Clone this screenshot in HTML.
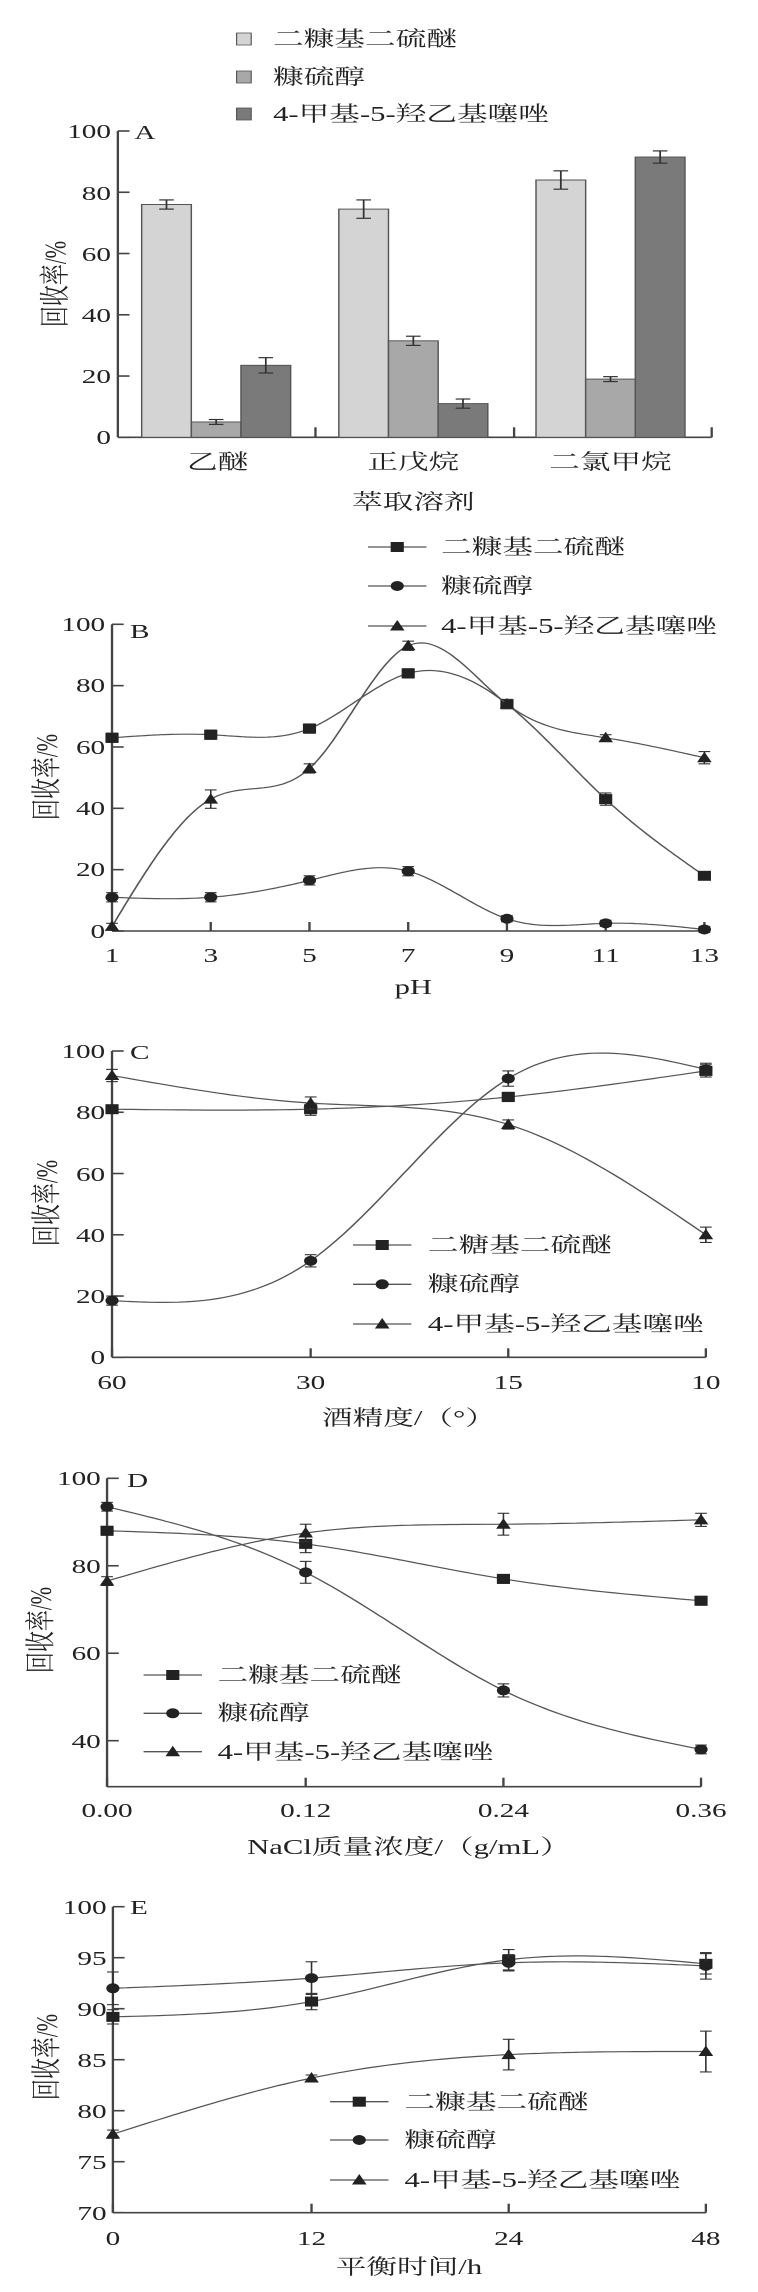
<!DOCTYPE html>
<html><head><meta charset="utf-8">
<style>
html,body{margin:0;padding:0;background:#fff;}
svg{display:block;}
text{font-family:"Liberation Serif","Noto Serif CJK SC","Noto Sans CJK SC",serif;fill:#222;}
.t{font-size:20px;}
.c{font-size:21px;}
</style></head>
<body>
<svg id="s" width="758" height="2292" viewBox="0 0 519 2292" preserveAspectRatio="none" xmlns="http://www.w3.org/2000/svg">
<g stroke="#444" stroke-width="1.6" fill="none" id="axes"></g>
<g id="plot"></g>

<!-- Panel A legend -->
<rect x="162" y="33" width="10" height="12" fill="#d4d4d4" stroke="#555" stroke-width="0.8"/>
<rect x="162" y="71" width="10" height="12" fill="#a8a8a8" stroke="#555" stroke-width="0.8"/>
<rect x="162" y="108" width="10" height="12" fill="#7a7a7a" stroke="#555" stroke-width="0.8"/>
<text class="c" x="187" y="46">二糠基二硫醚</text>
<text class="c" x="187" y="84">糠硫醇</text>
<text class="c" x="187" y="121">4-甲基-5-羟乙基噻唑</text>
<text class="t" x="92" y="139">A</text>
<text class="c" x="149" y="469" text-anchor="middle">乙醚</text>
<text class="c" x="283" y="469" text-anchor="middle">正戊烷</text>
<text class="c" x="418" y="469" text-anchor="middle">二氯甲烷</text>
<text class="c" x="283" y="509" text-anchor="middle">萃取溶剂</text>
<text class="c" transform="translate(45,284) rotate(-90)" text-anchor="middle">回收率/%</text>

<!-- Panel B -->
<text class="c" x="302" y="554">二糠基二硫醚</text>
<text class="c" x="302" y="593">糠硫醇</text>
<text class="c" x="302" y="633">4-甲基-5-羟乙基噻唑</text>
<text class="t" x="89" y="638">B</text>
<text class="c" x="283" y="994" text-anchor="middle">pH</text>
<text class="c" transform="translate(39,777) rotate(-90)" text-anchor="middle">回收率/%</text>

<!-- Panel C -->
<text class="c" x="293" y="1252">二糖基二硫醚</text>
<text class="c" x="293" y="1291">糠硫醇</text>
<text class="c" x="293" y="1331">4-甲基-5-羟乙基噻唑</text>
<text class="t" x="89" y="1059">C</text>
<text class="c" x="280" y="1425" text-anchor="middle">酒精度/（°）</text>
<text class="c" transform="translate(39,1203) rotate(-90)" text-anchor="middle">回收率/%</text>

<!-- Panel D -->
<text class="c" x="149" y="1682">二糠基二硫醚</text>
<text class="c" x="149" y="1720">糠硫醇</text>
<text class="c" x="149" y="1759">4-甲基-5-羟乙基噻唑</text>
<text class="t" x="87" y="1487">D</text>
<text class="c" x="280" y="1854" text-anchor="middle">NaCl质量浓度/（g/mL）</text>
<text class="c" transform="translate(35,1630) rotate(-90)" text-anchor="middle">回收率/%</text>

<!-- Panel E -->
<text class="c" x="277" y="2109">二糠基二硫醚</text>
<text class="c" x="277" y="2147">糠硫醇</text>
<text class="c" x="277" y="2187">4-甲基-5-羟乙基噻唑</text>
<text class="t" x="89" y="1914">E</text>
<text class="c" x="280" y="2274" text-anchor="middle">平衡时间/h</text>
<text class="c" transform="translate(39,2057) rotate(-90)" text-anchor="middle">回收率/%</text>

<!-- tick labels -->
<g class="t" text-anchor="end">
<text x="76" y="138">100</text><text x="76" y="200">80</text><text x="76" y="261">60</text><text x="76" y="322">40</text><text x="76" y="383">20</text><text x="76" y="444">0</text>
<text x="72" y="631">100</text><text x="72" y="692">80</text><text x="72" y="754">60</text><text x="72" y="815">40</text><text x="72" y="876">20</text><text x="72" y="938">0</text>
<text x="72" y="1058">100</text><text x="72" y="1119">80</text><text x="72" y="1181">60</text><text x="72" y="1242">40</text><text x="72" y="1303">20</text><text x="72" y="1364">0</text>
<text x="69" y="1485">100</text><text x="69" y="1573">80</text><text x="69" y="1660">60</text><text x="69" y="1748">40</text>
<text x="73" y="1914">100</text><text x="73" y="1965">95</text><text x="73" y="2016">90</text><text x="73" y="2067">85</text><text x="73" y="2118">80</text><text x="73" y="2169">75</text><text x="73" y="2220">70</text>
</g>
<g class="t" text-anchor="middle">
<text x="76.7" y="962">1</text><text x="144.3" y="962">3</text><text x="211.9" y="962">5</text><text x="279.5" y="962">7</text><text x="347.1" y="962">9</text><text x="414.7" y="962">11</text><text x="482.3" y="962">13</text>
<text x="76.7" y="1389">60</text><text x="212.7" y="1389">30</text><text x="348" y="1389">15</text><text x="483.3" y="1389">10</text>
<text x="73.3" y="1817">0.00</text><text x="209.3" y="1817">0.12</text><text x="344.7" y="1817">0.24</text><text x="480" y="1817">0.36</text>
<text x="77.3" y="2245">0</text><text x="213.3" y="2245">12</text><text x="348.3" y="2245">24</text><text x="483.3" y="2245">48</text>
</g>
</svg>
<script>
(function(){
var NS="http://www.w3.org/2000/svg";
var ax=document.getElementById('axes'), pl=document.getElementById('plot');
function el(p,tag,a){var e=document.createElementNS(NS,tag);for(var k in a)e.setAttribute(k,a[k]);p.appendChild(e);return e;}
function line(x1,y1,x2,y2,p,w,c){el(p||ax,'line',{x1:x1,y1:y1,x2:x2,y2:y2,stroke:c||'#444','stroke-width':w||1.6});}
var A={x0:80.7,x1:487.3,y0:437.3,y100:131};
function yA(v){return A.y0-(A.y0-A.y100)*v/100;}
line(A.x0,A.y100,A.x0,A.y0);line(A.x0,A.y0,A.x1,A.y0);
[0,20,40,60,80,100].forEach(function(v){line(A.x0,yA(v),A.x0+8,yA(v));});
[216,352,487.3].forEach(function(x){line(x,A.y0,x,A.y0-10);});
var cols=['#d4d4d4','#a8a8a8','#7a7a7a'];
var bars=[[97,76,1.5],[131,5,0.8],[165,23.5,2.5],[232,74.5,3],[266,31.5,1.5],[300,11,1.5],[367,84,3],[401,19,0.8],[435,91.5,2]];
bars.forEach(function(b,i){var y=yA(b[1]);
 el(pl,'rect',{x:b[0],y:y,width:34,height:A.y0-y,fill:cols[i%3],stroke:'#555','stroke-width':1});
 var cx=b[0]+17,t=yA(b[1]+b[2]),bt=yA(b[1]-b[2]);
 line(cx,t,cx,bt,pl,1.2,'#333');line(cx-5,t,cx+5,t,pl,1.2,'#333');line(cx-5,bt,cx+5,bt,pl,1.2,'#333');});
function spline(xs,ys){var n=xs.length;
 var h=[],al=[],l=[1],mu=[0],z=[0],c=new Array(n).fill(0),b=[],d=[];
 for(var i=0;i<n-1;i++)h[i]=xs[i+1]-xs[i];
 for(i=1;i<n-1;i++)al[i]=3/h[i]*(ys[i+1]-ys[i])-3/h[i-1]*(ys[i]-ys[i-1]);
 for(i=1;i<n-1;i++){l[i]=2*(xs[i+1]-xs[i-1])-h[i-1]*mu[i-1];mu[i]=h[i]/l[i];z[i]=(al[i]-h[i-1]*z[i-1])/l[i];}
 c[n-1]=0;
 for(var j=n-2;j>=0;j--){c[j]=z[j]-mu[j]*c[j+1];b[j]=(ys[j+1]-ys[j])/h[j]-h[j]*(c[j+1]+2*c[j])/3;d[j]=(c[j+1]-c[j])/(3*h[j]);}
 var pts=[];for(j=0;j<n-1;j++){for(var k=0;k<30;k++){var t=h[j]*k/30;pts.push([xs[j]+t,ys[j]+b[j]*t+c[j]*t*t+d[j]*t*t*t]);}}
 pts.push([xs[n-1],ys[n-1]]);return pts;}
function marker(x,y,m){
 if(m==0)el(pl,'rect',{x:x-4.5,y:y-5,width:9,height:10,fill:'#222'});
 else if(m==1)el(pl,'ellipse',{cx:x,cy:y,rx:4.5,ry:5,fill:'#222'});
 else el(pl,'polygon',{points:(x-5)+','+(y+4.5)+' '+(x+5)+','+(y+4.5)+' '+x+','+(y-6),fill:'#222'});}
function panel(P){
 var Y=function(v){return P.yb-(P.yb-P.yt)*(v-P.vmin)/(P.vmax-P.vmin);};
 line(P.x0,Y(P.vmax),P.x0,P.axisY);line(P.x0,P.axisY,P.xs[P.xs.length-1],P.axisY);
 P.ticks.forEach(function(v){line(P.x0,Y(v),P.x0+8,Y(v));});
 P.xt.forEach(function(x){line(x,P.axisY,x,P.axisY-9);});
 P.series.forEach(function(s,m){
  var ys=s.v.map(Y);var pts=spline(P.xs,ys);
  el(pl,'polyline',{points:pts.map(function(p){return p[0].toFixed(1)+','+p[1].toFixed(1);}).join(' '),fill:'none',stroke:'#555','stroke-width':1.2});
  s.v.forEach(function(v,i){var e=(s.e&&s.e[i])||1;var x=P.xs[i],t=Y(v+e),b=Y(v-e);
   line(x,t,x,b,pl,1.1,'#333');line(x-4,t,x+4,t,pl,1.1,'#333');line(x-4,b,x+4,b,pl,1.1,'#333');marker(x,Y(v),m);});
 });
 P.leg.forEach(function(ly,m){line(P.lx,ly,P.lx+40,ly,pl,1.3,'#555');marker(P.lx+20,ly,m);});
}
var xb=[];for(var i=0;i<7;i++)xb.push(76.7+67.6*i);
panel({x0:76.7,yb:931,yt:624.3,vmin:0,vmax:100,axisY:931,ticks:[0,20,40,60,80,100],xs:xb,xt:xb,lx:252,leg:[547,586,626],
 series:[{v:[63,64,66,84,74,43,18],e:[1.5,1.5,1.5,1.5,1.5,2,1.2]},{v:[11,11,16.5,19.5,4,2.5,0.5],e:[1.5,1.5,1.5,1.5,1,1,1]},{v:[1.5,43,53,93,74,63,56.5],e:[1,3,1.5,1.5,1.5,1,2]}]});
var xc=[76.7,212.7,348,483.3];
panel({x0:76.7,yb:1357.3,yt:1051,vmin:0,vmax:100,axisY:1357.3,ticks:[0,20,40,60,80,100],xs:xc,xt:xc,lx:241.7,leg:[1245,1284.3,1324],
 series:[{v:[81,81,85,93.5],e:[1,2,1.5,2]},{v:[18.5,31.5,91,94],e:[1.5,2,2.5,2]},{v:[92,83,76,40],e:[2,2,1.5,2.5]}]});
var xd=[73.3,209.3,344.7,480];
panel({x0:73.3,yb:1740.7,yt:1478.3,vmin:40,vmax:100,axisY:1786.7,ticks:[40,60,80,100],xs:xd,xt:xd,lx:98.3,leg:[1675,1713.3,1751.7],
 series:[{v:[88,85,77,72],e:[1,2,1,1]},{v:[93.5,78.5,51.5,38],e:[1,2.5,1.5,1]},{v:[76.5,87.5,89.5,90.5],e:[1,2,2.5,1.5]}]});
var xe=[77.3,213.3,348.3,483.3];
panel({x0:77.3,yb:2212.7,yt:1906.7,vmin:70,vmax:100,axisY:2212.7,ticks:[70,75,80,85,90,95,100],xs:xe,xt:xe,lx:226,leg:[2101.7,2140,2180],
 series:[{v:[89.2,90.7,94.8,94.4],e:[0.7,0.8,1,1]},{v:[92,93,94.5,94.2],e:[1.6,1.6,0.8,1.3]},{v:[77.7,83.2,85.5,85.8],e:[0.4,0.3,1.5,2]}]});
})();
</script>
</body></html>
